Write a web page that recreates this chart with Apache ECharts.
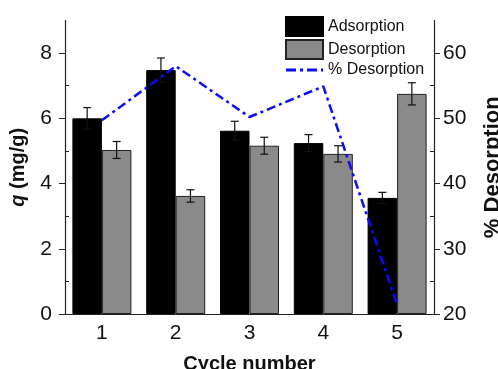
<!DOCTYPE html>
<html>
<head>
<meta charset="utf-8">
<script src="https://cdn.jsdelivr.net/npm/echarts@6/dist/echarts.min.js"></script>
<style>html,body{margin:0;padding:0;background:#fff}#c{width:498px;height:369px}</style>
</head>
<body>
<div id="c"></div>
<script>
var categories = ['1', '2', '3', '4', '5'];
var adsorption = [6.0, 7.48, 5.62, 5.24, 3.56];
var adsorptionErr = [0.33, 0.37, 0.29, 0.26, 0.17];
var desorption = [5.03, 3.62, 5.16, 4.91, 6.75];
var desorptionErr = [0.26, 0.19, 0.26, 0.25, 0.34];
var pctDesorption = [49.7, 58.0, 50.2, 54.9, 21.4];
var leftTicks = [0, 2, 4, 6, 8];
var leftMinor = [1, 3, 5, 7];
var rightTicks = [20, 30, 40, 50, 60];
var rightMinor = [25, 35, 45, 55];

var FONT = 'Liberation Sans';
var BAR_W = 29.5;
var BLUE = '#0a0aff';

function errSeries(vals, errs, off) {
  var data = vals.map(function (v, i) { return [i, v, errs[i]]; });
  return {
    type: 'custom',
    yAxisIndex: 0,
    z: 5,
    silent: true,
    data: data,
    renderItem: function (params, api) {
      var i = api.value(0), v = api.value(1), e = api.value(2);
      var hi = api.coord([i, v + e]);
      var lo = api.coord([i, v - e]);
      var x = hi[0] + off;
      var cap = 4;
      var st = { stroke: '#111', lineWidth: 1.2 };
      return {
        type: 'group',
        children: [
          { type: 'line', shape: { x1: x, y1: hi[1], x2: x, y2: lo[1] }, style: st },
          { type: 'line', shape: { x1: x - cap, y1: hi[1], x2: x + cap, y2: hi[1] }, style: st },
          { type: 'line', shape: { x1: x - cap, y1: lo[1], x2: x + cap, y2: lo[1] }, style: st }
        ]
      };
    }
  };
}

var chart = echarts.init(document.getElementById('c'));
chart.setOption({
  animation: false,
  textStyle: { fontFamily: FONT },
  grid: { left: 65, right: 64, top: 20.5, bottom: 55, containLabel: false, outerBoundsMode: 'none' },
  legend: {
    orient: 'vertical', left: 285, top: 16, padding: 0,
    itemWidth: 37, itemHeight: 19, itemGap: 2,
    textStyle: { fontFamily: FONT, fontSize: 16, color: '#111' },
    data: [
      { name: 'Adsorption', icon: 'rect' },
      { name: 'Desorption', icon: 'rect' },
      { name: '% Desorption', icon: 'path://M0,0h10v3h-10z M14,0h3v3h-3z M21,0h10v3h-10z M35,0h2v3h-2z' }
    ]
  },
  xAxis: {
    type: 'category', data: categories,
    axisLine: { lineStyle: { color: '#222', width: 1.2 } },
    axisTick: { alignWithLabel: true, length: 5, lineStyle: { color: '#222' } },
    axisLabel: { fontSize: 21, color: '#111', margin: 9, fontFamily: FONT },
    name: 'Cycle number', nameLocation: 'middle', nameGap: 40,
    nameTextStyle: { fontSize: 20, fontWeight: 'bold', color: '#111', fontFamily: FONT }
  },
  yAxis: [
    {
      type: 'value', min: 0, max: 9, position: 'left',
      splitLine: { show: false },
      axisLine: { show: true, lineStyle: { color: '#222', width: 1.2 } },
      axisTick: { show: true, length: 6, customValues: leftTicks, lineStyle: { color: '#222' } },
      axisLabel: { fontSize: 21, color: '#111', margin: 13, customValues: leftTicks, fontFamily: FONT },
      name: '{i|q} (mg/g)', nameLocation: 'middle', nameGap: 37, nameRotate: 90,
      nameTextStyle: {
        fontSize: 20, fontWeight: 'bold', color: '#111', fontFamily: FONT,
        rich: { i: { fontSize: 20, fontWeight: 'bold', fontStyle: 'italic', color: '#111', fontFamily: FONT } }
      }
    },
    {
      type: 'value', min: 20, max: 65, position: 'right',
      splitLine: { show: false },
      axisLine: { show: true, lineStyle: { color: '#222', width: 1.2 } },
      axisTick: { show: true, length: 6, customValues: rightTicks, lineStyle: { color: '#222' } },
      axisLabel: { fontSize: 21, color: '#111', margin: 9, customValues: rightTicks, fontFamily: FONT },
      name: '% Desorption', nameLocation: 'middle', nameGap: 48, nameRotate: 90,
      nameTextStyle: { fontSize: 22, fontWeight: 'bold', color: '#111', fontFamily: FONT }
    },
    {
      type: 'value', min: 0, max: 9, position: 'left',
      splitLine: { show: false },
      axisLine: { show: false },
      axisTick: { show: true, inside: true, length: 4, customValues: leftMinor, lineStyle: { color: '#222' } },
      axisLabel: { show: false }
    },
    {
      type: 'value', min: 20, max: 65, position: 'right',
      splitLine: { show: false },
      axisLine: { show: false },
      axisTick: { show: true, inside: true, length: 4, customValues: rightMinor, lineStyle: { color: '#222' } },
      axisLabel: { show: false }
    }
  ],
  series: [
    {
      name: 'Adsorption', type: 'bar', yAxisIndex: 0, data: adsorption,
      barWidth: BAR_W, barGap: '0%',
      itemStyle: { color: '#000', borderColor: '#000', borderWidth: 1 }
    },
    {
      name: 'Desorption', type: 'bar', yAxisIndex: 0, data: desorption,
      barWidth: BAR_W, barGap: '0%',
      itemStyle: { color: '#8a8a8a', borderColor: '#222', borderWidth: 1 }
    },
    errSeries(adsorption, adsorptionErr, -BAR_W / 2),
    errSeries(desorption, desorptionErr, BAR_W / 2),
    {
      name: '% Desorption', type: 'line', yAxisIndex: 1, data: pctDesorption,
      symbol: 'none', z: 10,
      lineStyle: { color: BLUE, width: 2.5, type: [9, 4, 3, 4] },
      itemStyle: { color: BLUE }
    }
  ]
});
</script>
</body>
</html>
